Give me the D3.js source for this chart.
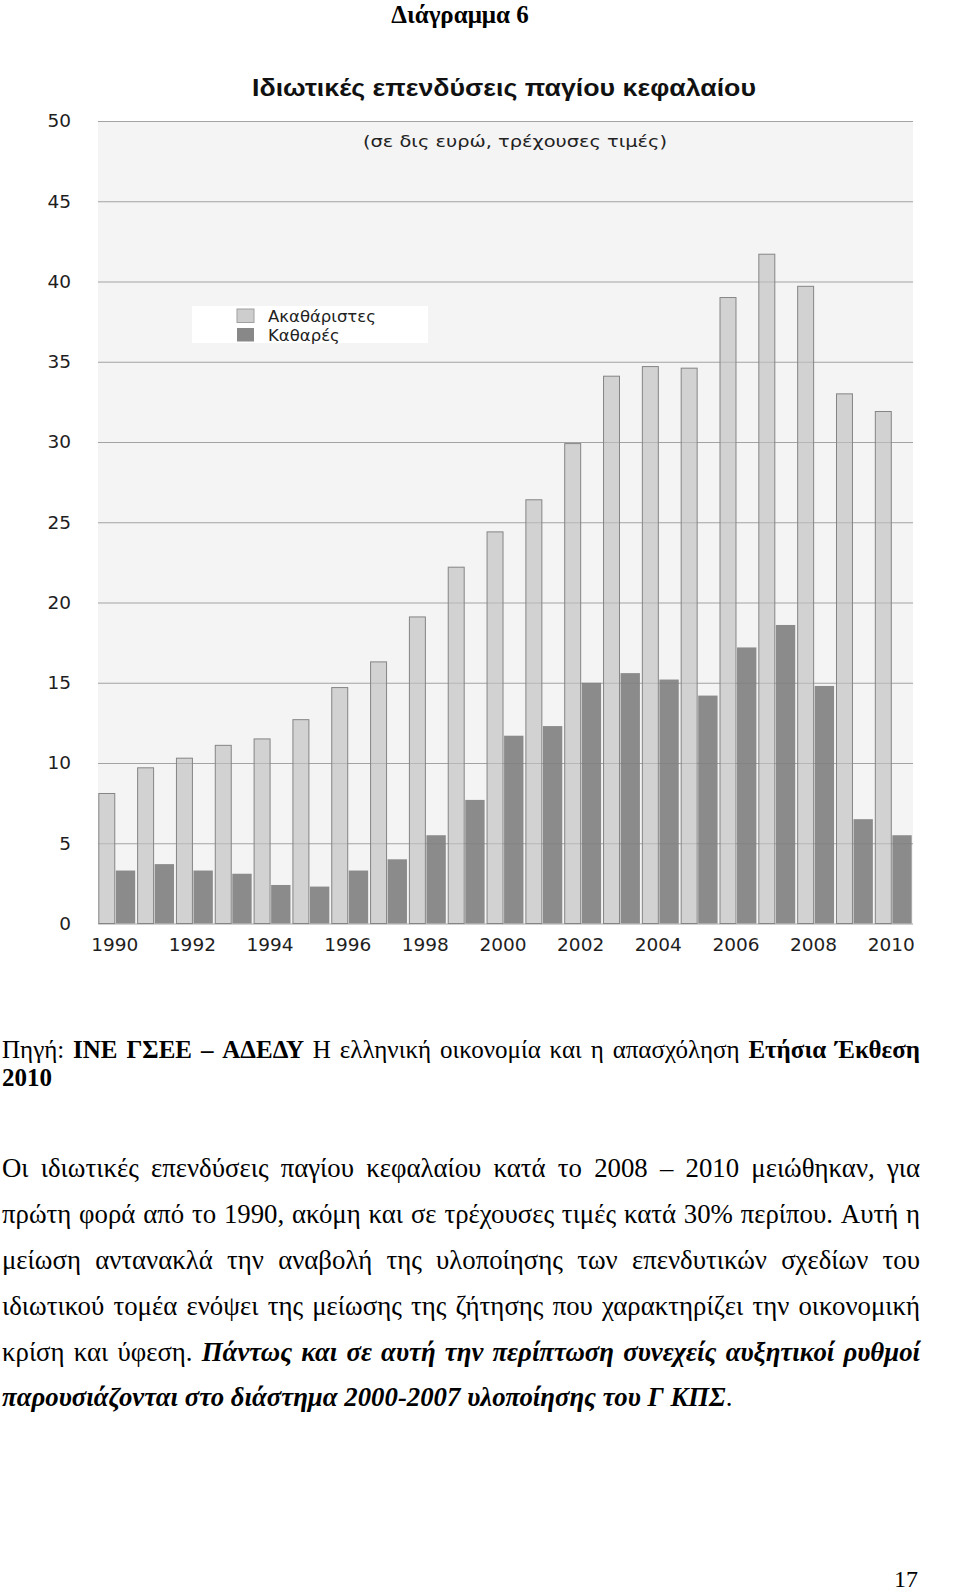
<!DOCTYPE html>
<html>
<head>
<meta charset="utf-8">
<script src="https://cdn.jsdelivr.net/npm/d3@7"></script>
<style>
  body { margin: 0; background: #fff; }
  svg { display: block; }
</style>
</head>
<body>
<div id="page"></div>
<script>
(function () {
  // Chart data (δις ευρώ, τρέχουσες τιμές)
  const years = ["1990", "1991", "1992", "1993", "1994", "1995", "1996", "1997", "1998", "1999", "2000",
    "2001", "2002", "2003", "2004", "2005", "2006", "2007", "2008", "2009", "2010"];
  const gross = [8.1, 9.7, 10.3, 11.1, 11.5, 12.7, 14.7, 16.3, 19.1, 22.2, 24.4,
    26.4, 29.9, 34.1, 34.7, 34.6, 39.0, 41.7, 39.7, 33.0, 31.9];
  const net = [3.3, 3.7, 3.3, 3.1, 2.4, 2.3, 3.3, 4.0, 5.5, 7.7, 11.7,
    12.3, 15.0, 15.6, 15.2, 14.2, 17.2, 18.6, 14.8, 6.5, 5.5];
  const yTicks = [0, 5, 10, 15, 20, 25, 30, 35, 40, 45, 50];
  const xTicks = ["1990", "1992", "1994", "1996", "1998", "2000", "2002", "2004", "2006", "2008", "2010"];
  const seriesNames = ["Ακαθάριστες", "Καθαρές"];

  const chartTitle = "Ιδιωτικές επενδύσεις παγίου κεφαλαίου";
  const chartSubtitle = "(σε δις ευρώ, τρέχουσες τιμές)";

  // page text
  const heading = "Διάγραμμα 6";
  const sourceLines = [
    [{ t: "Πηγή:" }, { t: "ΙΝΕ ΓΣΕΕ – ΑΔΕΔΥ", b: true }, { t: "Η ελληνική οικονομία και η απασχόληση" },
     { t: "Ετήσια Έκθεση", b: true }],
    [{ t: "2010", b: true }]
  ];
  const paraLines = [
    [{ t: "Οι ιδιωτικές επενδύσεις παγίου κεφαλαίου κατά το 2008 – 2010 μειώθηκαν, για" }],
    [{ t: "πρώτη φορά από το 1990, ακόμη και σε τρέχουσες τιμές κατά 30% περίπου. Αυτή η" }],
    [{ t: "μείωση αντανακλά την αναβολή της υλοποίησης των επενδυτικών σχεδίων του" }],
    [{ t: "ιδιωτικού τομέα ενόψει της μείωσης της ζήτησης που χαρακτηρίζει την οικονομική" }],
    [{ t: "κρίση και ύφεση." }, { t: "Πάντως και σε αυτή την περίπτωση συνεχείς αυξητικοί ρυθμοί", b: true, i: true }],
    [{ t: "παρουσιάζονται στο διάστημα 2000-2007 υλοποίησης του Γ ΚΠΣ", b: true, i: true }, { t: ".", glue: true }]
  ];

  const W = 960, H = 1591;
  const svg = d3.select("#page").append("svg").attr("width", W).attr("height", H);

  // ---- heading
  svg.append("text")
    .attr("x", 460).attr("y", 23)
    .attr("text-anchor", "middle")
    .style("font-family", "'Liberation Serif', 'Times New Roman', serif")
    .style("font-weight", "bold")
    .style("font-size", "25px")
    .text(heading);

  // ---- chart
  const plot = { left: 98, right: 913, top: 121, bottom: 923.5 };
  const sans = "'DejaVu Sans', Verdana, sans-serif";

  const x = d3.scaleBand().domain(years).range([98.3, 911.7]).paddingInner(0.05).paddingOuter(0);
  const y = d3.scaleLinear().domain([0, 50]).range([plot.bottom, plot.top]);

  const chart = svg.append("g");

  chart.append("rect")
    .attr("x", plot.left).attr("y", plot.top)
    .attr("width", plot.right - plot.left).attr("height", plot.bottom - plot.top)
    .attr("fill", "#f4f4f4");

  const yAxis = chart.append("g")
    .attr("transform", `translate(${plot.left},0)`)
    .call(d3.axisLeft(y).tickValues(yTicks).tickSize(-(plot.right - plot.left)).tickPadding(27));
  yAxis.select(".domain").remove();
  yAxis.selectAll(".tick line").attr("stroke", "#a3a3a3");
  yAxis.selectAll(".tick text")
    .style("font-family", sans).style("font-size", "18.5px").attr("fill", "#1e1e1e");

  const bw = x.bandwidth();
  const grp = chart.selectAll(".yr")
    .data(years)
    .join("g")
    .attr("class", "yr")
    .attr("transform", (d) => `translate(${x(d)},0)`);

  grp.append("rect")
    .attr("x", 0.5)
    .attr("y", (d, i) => y(gross[i]))
    .attr("width", bw * 0.46 - 1)
    .attr("height", (d, i) => y(0) - y(gross[i]))
    .attr("fill", "#c0c0c0").attr("fill-opacity", 0.65)
    .attr("stroke", "#858585").attr("stroke-width", 1);

  grp.append("rect")
    .attr("x", bw * 0.475)
    .attr("y", (d, i) => y(net[i]))
    .attr("width", bw * 0.525)
    .attr("height", (d, i) => y(0) - y(net[i]))
    .attr("fill", "#808080").attr("fill-opacity", 0.9);

  const xAxis = chart.append("g")
    .attr("transform", `translate(-2,${plot.bottom + 10})`)
    .call(d3.axisBottom(x).tickValues(xTicks).tickSize(0).tickPadding(4));
  xAxis.select(".domain").remove();
  xAxis.selectAll(".tick text")
    .style("font-family", sans).style("font-size", "18.5px").attr("fill", "#1e1e1e");

  // titles
  chart.append("text")
    .attr("x", 252).attr("y", 96)
    .attr("textLength", 504).attr("lengthAdjust", "spacingAndGlyphs")
    .style("font-family", "'Liberation Sans', Arial, sans-serif")
    .style("font-weight", "bold").style("font-size", "23px")
    .attr("fill", "#111")
    .text(chartTitle);

  chart.append("text")
    .attr("x", 363).attr("y", 147)
    .attr("textLength", 304).attr("lengthAdjust", "spacingAndGlyphs")
    .style("font-family", sans).style("font-size", "16px")
    .attr("fill", "#222")
    .text(chartSubtitle);

  // legend
  const legend = chart.append("g");
  legend.append("rect")
    .attr("x", 192).attr("y", 306).attr("width", 236).attr("height", 37)
    .attr("fill", "#ffffff");
  const legendFill = ["#cdcdcd", "#888888"];
  const li = legend.selectAll(".li").data(seriesNames).join("g").attr("class", "li")
    .attr("transform", (d, i) => `translate(237,${309 + i * 19})`);
  li.append("rect")
    .attr("width", 17).attr("height", 13.5)
    .attr("fill", (d, i) => legendFill[i])
    .attr("stroke", (d, i) => (i === 0 ? "#a0a0a0" : "none"));
  li.append("text")
    .attr("x", 31).attr("y", 12.5)
    .style("font-family", sans).style("font-size", "16.5px")
    .attr("fill", "#222")
    .text((d) => d);

  // ---- body text
  const serif = "'Liberation Serif', 'Times New Roman', serif";

  function drawLine(segs, yPos, justify, x0, width, size) {
    const g = svg.append("g")
      .style("font-family", serif).style("font-size", size + "px").attr("fill", "#000");
    const words = [];
    segs.forEach((sg) => {
      sg.t.split(" ").filter(Boolean).forEach((w, k) =>
        words.push({ w: w, b: sg.b, i: sg.i, glue: sg.glue && k === 0 }));
    });
    const nodes = words.map((d) =>
      g.append("text")
        .attr("y", yPos)
        .style("font-weight", d.b ? "bold" : "normal")
        .style("font-style", d.i ? "italic" : "normal")
        .text(d.w));
    const widths = nodes.map((n) => n.node().getComputedTextLength());
    const gaps = words.filter((d, k) => k > 0 && !d.glue).length;
    const space = size * 0.25;
    let gap = justify && gaps > 0 ? (width - d3.sum(widths)) / gaps : space;
    if (gap < 4) gap = 4;
    let xp = x0;
    nodes.forEach((n, k) => {
      if (k > 0 && !words[k].glue) xp += gap;
      n.attr("x", xp);
      xp += widths[k];
    });
  }

  drawLine(sourceLines[0], 1058, true, 2, 918, 25);
  drawLine(sourceLines[1], 1086, false, 2, 918, 25);

  const paraY = [1177, 1223, 1269, 1315, 1361, 1406];
  paraLines.forEach((ln, k) => drawLine(ln, paraY[k], k < paraLines.length - 1, 2, 918, 26.8));

  // page number
  svg.append("text")
    .attr("x", 918).attr("y", 1587).attr("text-anchor", "end")
    .style("font-family", serif).style("font-size", "24px")
    .text("17");
})();
</script>
</body>
</html>
